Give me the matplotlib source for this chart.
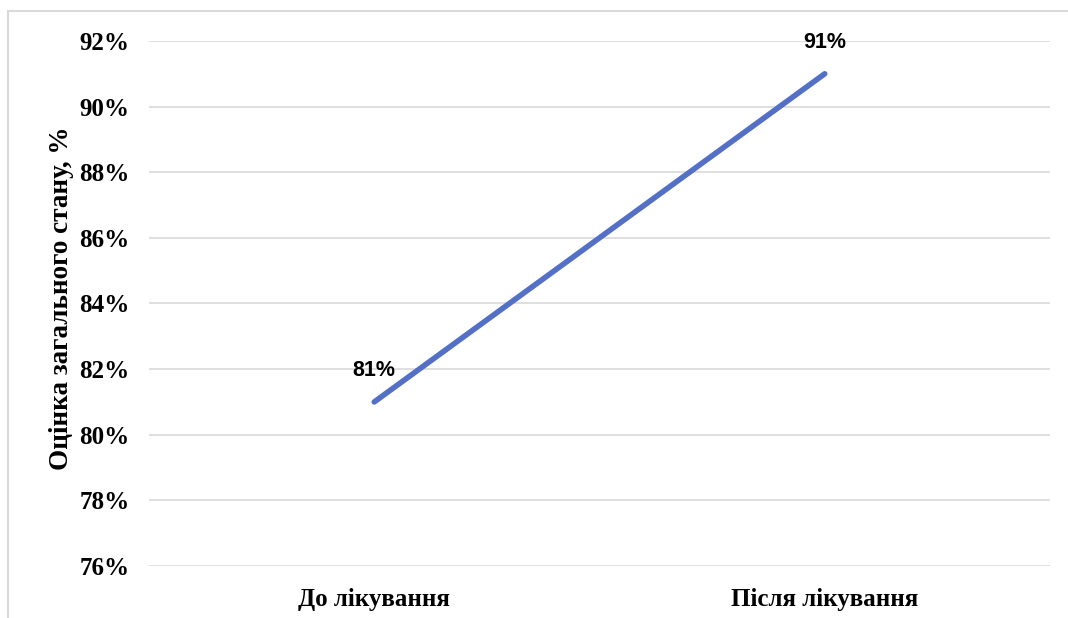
import matplotlib.pyplot as plt
from matplotlib.patches import Rectangle
from matplotlib.ticker import PercentFormatter

categories = ['До лікування', 'Після лікування']
values = [81, 91]
y_ticks = [76, 78, 80, 82, 84, 86, 88, 90, 92]

fig = plt.figure(figsize=(10.68, 6.18), dpi=100)
ax = fig.add_axes([0.1395, 0.0841, 0.9831 - 0.1395, 0.9337 - 0.0841])

# рамка діаграми (світло-сіра)
fig.patches.append(Rectangle((8 / 1068, -0.1), 1.2, 1 - 11 / 618 + 0.1,
                             transform=fig.transFigure, fill=False,
                             edgecolor='#d9d9d9', linewidth=1.5))

x = [0, 1]
ax.plot(x, values, color='#5470c6', linewidth=4, solid_capstyle='round', zorder=3)

for xi, v in zip(x, values):
    ax.annotate(f'{v}%', (xi, v), xytext=(0, 15), textcoords='offset points',
                ha='center', va='bottom', fontsize=15.5, fontweight='bold',
                family='Liberation Sans', color='black')

ax.set_xlim(-0.5, 1.5)
ax.set_ylim(76, 92)
ax.set_yticks(y_ticks)
ax.yaxis.set_major_formatter(PercentFormatter(decimals=0))
ax.set_xticks(x)
ax.set_xticklabels(categories)
ax.grid(axis='y', color='#d9d9d9', linewidth=1.2)
ax.set_axisbelow(True)
for s in ax.spines.values():
    s.set_visible(False)
ax.tick_params(length=0)
ax.tick_params(axis='y', pad=14)
ax.tick_params(axis='x', pad=16)
for lab in ax.get_yticklabels() + ax.get_xticklabels():
    lab.set_family('Liberation Serif')
    lab.set_fontweight('bold')
    lab.set_fontsize(18)
ax.set_ylabel('Оцінка загального стану, %', family='Liberation Serif',
              fontweight='bold', fontsize=19.5, labelpad=4)
ax.yaxis.label.set_y(0.51)

fig.savefig('out.png', dpi=100)
